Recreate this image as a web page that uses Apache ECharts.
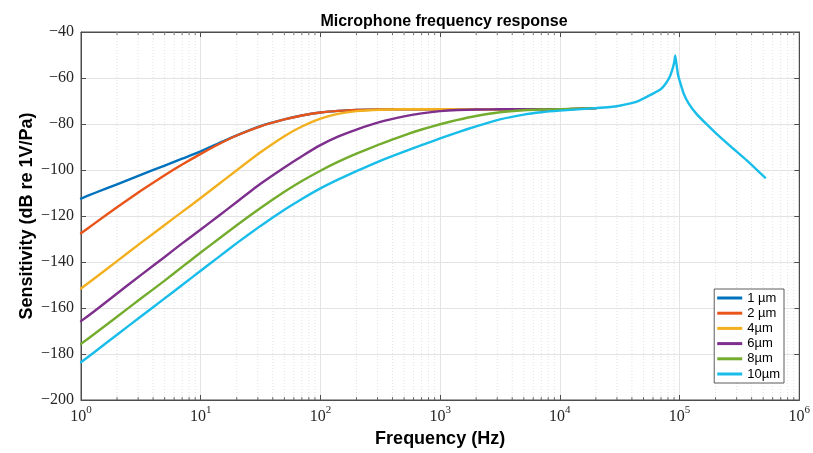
<!DOCTYPE html>
<html>
<head>
<meta charset="utf-8">
<script src="https://cdn.jsdelivr.net/npm/echarts@6/dist/echarts.min.js"></script>
<style>html,body{margin:0;padding:0;background:#fff}#c{width:813px;height:453px}</style>
</head>
<body>
<div id="c"></div>
<script>
// Frequencies (Hz) shared by all six curves
const freqCommon = [1, 1.3, 2, 3.16, 5, 7, 10, 14, 20, 31.6, 50, 70, 100, 140, 200, 316, 500, 700, 1000, 1400, 2000, 3160, 5000, 7000, 10000, 20000];
// Sensitivity (dB re 1V/Pa)
const sens1um  = [-112.4, -110.0, -106.2, -102.1, -98.1, -95.1, -91.9, -88.5, -84.9, -80.9, -78.0, -76.3, -75.0, -74.3, -73.9, -73.7, -73.6, -73.6, -73.6, -73.6, -73.6, -73.6, -73.6, -73.6, -73.6, -73.1];
const sens2um  = [-127.5, -123.2, -116.2, -109.0, -102.3, -97.6, -93.0, -88.9, -85.0, -81.0, -78.0, -76.3, -75.0, -74.3, -73.9, -73.7, -73.6, -73.6, -73.6, -73.6, -73.6, -73.6, -73.6, -73.6, -73.6, -73.1];
const sens4um  = [-151.5, -147.1, -139.6, -131.7, -123.9, -118.2, -112.2, -106.3, -100.1, -92.3, -85.3, -81.1, -77.7, -75.6, -74.4, -73.8, -73.6, -73.6, -73.6, -73.6, -73.6, -73.6, -73.6, -73.6, -73.6, -73.1];
const sens6um  = [-165.7, -161.3, -153.7, -145.7, -137.8, -131.9, -125.9, -120.1, -113.9, -106.0, -98.9, -94.0, -89.2, -85.5, -82.4, -79.1, -76.7, -75.4, -74.4, -73.9, -73.7, -73.6, -73.6, -73.6, -73.6, -73.1];
const sens8um  = [-175.6, -171.2, -163.8, -155.9, -148.1, -142.1, -135.9, -130.1, -124.0, -116.5, -109.5, -104.8, -100.3, -96.5, -92.9, -88.7, -84.9, -82.4, -80.1, -78.2, -76.5, -74.9, -74.0, -73.7, -73.6, -73.1];
const sens10um = [-183.6, -179.1, -171.6, -163.7, -155.8, -150.0, -143.8, -138.0, -131.8, -124.3, -117.3, -112.6, -108.0, -104.2, -100.5, -96.0, -92.0, -89.2, -86.3, -83.6, -81.0, -78.0, -75.9, -74.9, -74.2, -73.1];
// Resonance part of the 10 µm curve
const freqResonance = [30000, 44000, 60000, 70000, 77000, 83600, 88000, 90500, 92000, 94000, 97000, 101000, 108000, 119000, 139000, 169000, 205000, 264000, 364000, 518000];
const sens10umResonance = [-72.3, -70.3, -66.8, -64.8, -62.3, -59.0, -55.5, -52.8, -50.2, -53.5, -58.5, -61.8, -66.6, -71.0, -75.7, -80.2, -84.4, -89.5, -95.8, -103.3];

const seriesNames = ['1 µm', '2 µm', '4µm', '6µm', '8µm', '10µm'];
const seriesColors = ['#0072BD', '#E8541A', '#F2B01E', '#7E2F8E', '#74AC2E', '#19BDEA'];
const yTicks = {min: -200, max: -40, step: 20};
const xDecades = {min: 1, max: 1e6};
const minorMantissas = [2, 3, 4, 5, 6, 7, 8, 9];
const decadeStarts = [1, 10, 100, 1000, 10000, 100000];

const minorFreqs = [];
decadeStarts.forEach(d => minorMantissas.forEach(m => minorFreqs.push([d * m, yTicks.min])));

function pairs(xs, ys) { return xs.map((x, i) => [x, ys[i]]); }
const allSens = [sens1um, sens2um, sens4um, sens6um, sens8um, sens10um];
const lineData = allSens.map(s => pairs(freqCommon, s));
lineData[5] = lineData[5].concat(pairs(freqResonance, sens10umResonance));

const serif = 'Liberation Serif';
const sans = 'Liberation Sans';
const axisColor = '#4d4d4d';

const chart = echarts.init(document.getElementById('c'), null, {renderer: 'canvas'});

const series = [{
  type: 'custom',
  silent: true,
  z: 1,
  data: minorFreqs,
  encode: {x: 0, y: 1},
  renderItem: function (params, api) {
    const f = api.value(0);
    const top = api.coord([f, yTicks.max]);
    const bot = api.coord([f, yTicks.min]);
    return {
      type: 'group',
      children: [
        {type: 'line', shape: {x1: top[0], y1: top[1], x2: bot[0], y2: bot[1]},
         style: {stroke: '#d9d9d9', lineWidth: 0.8, lineDash: [1, 2]}},
        {type: 'line', shape: {x1: bot[0], y1: bot[1], x2: bot[0], y2: bot[1] - 3},
         style: {stroke: axisColor, lineWidth: 0.8}},
        {type: 'line', shape: {x1: top[0], y1: top[1], x2: top[0], y2: top[1] + 3},
         style: {stroke: axisColor, lineWidth: 0.8}}
      ]
    };
  }
}];
seriesNames.forEach((n, i) => {
  series.push({
    name: n,
    type: 'line',
    data: lineData[i],
    showSymbol: false,
    symbol: 'none',
    smooth: 0.15,
    lineStyle: {width: 2.4, color: seriesColors[i], join: 'round', cap: 'round'},
    itemStyle: {color: seriesColors[i]},
    z: 3 + i,
    animation: false
  });
});

const option = {
  animation: false,
  backgroundColor: '#fff',
  title: {
    text: 'Microphone frequency response',
    left: 439, top: 9, textAlign: 'center',
    textStyle: {fontFamily: sans, fontSize: 16, fontWeight: 'bold', color: '#000'}
  },
  grid: {left: 81, right: 12, top: 32, bottom: 50, containLabel: false,
         show: true, borderColor: axisColor, borderWidth: 1, backgroundColor: '#fff'},
  legend: {
    data: seriesNames,
    orient: 'vertical',
    right: 29, bottom: 70,
    backgroundColor: '#fff',
    borderColor: '#333', borderWidth: 0.8,
    padding: [2, 4, 2, 3],
    itemWidth: 25, itemHeight: 3, itemGap: 1.2,
    icon: 'rect',
    textStyle: {fontFamily: sans, fontSize: 13, color: '#000', lineHeight: 14}
  },
  xAxis: [{
    type: 'log', logBase: 10, min: xDecades.min, max: xDecades.max,
    position: 'bottom',
    name: 'Frequency (Hz)', nameLocation: 'middle', nameGap: 30,
    nameTextStyle: {fontFamily: sans, fontSize: 18, fontWeight: 'bold', color: '#000'},
    axisLine: {show: true, lineStyle: {color: axisColor, width: 1}},
    axisTick: {show: true, inside: true, length: 5, lineStyle: {color: axisColor}},
    splitLine: {show: true, lineStyle: {color: '#e3e3e3', width: 1}},
    axisLabel: {
      margin: 5,
      formatter: function (v) { const e = Math.round(Math.log10(v)); return '{b|10}{e|' + e + '}'; },
      rich: {
        b: {fontFamily: serif, fontSize: 16, color: '#262626', verticalAlign: 'bottom'},
        e: {fontFamily: serif, fontSize: 11, color: '#262626', verticalAlign: 'bottom', padding: [0, 0, 9, 0]}
      }
    }
  }, {
    type: 'log', logBase: 10, min: xDecades.min, max: xDecades.max,
    position: 'top',
    axisLine: {show: true, lineStyle: {color: axisColor, width: 1}},
    axisTick: {show: true, inside: true, length: 5, lineStyle: {color: axisColor}},
    axisLabel: {show: false}, splitLine: {show: false}
  }],
  yAxis: [{
    type: 'value', min: yTicks.min, max: yTicks.max, interval: yTicks.step,
    name: 'Sensitivity (dB re 1V/Pa)', nameLocation: 'middle', nameGap: 45,
    nameMoveOverlap: false,
    nameTextStyle: {fontFamily: sans, fontSize: 18, fontWeight: 'bold', color: '#000'},
    axisLine: {show: true, lineStyle: {color: axisColor, width: 1}},
    axisTick: {show: true, inside: true, length: 5, lineStyle: {color: axisColor}},
    splitLine: {show: true, lineStyle: {color: '#e3e3e3', width: 1}},
    axisLabel: {
      margin: 7, fontFamily: serif, fontSize: 16, color: '#262626',
      formatter: v => String(v).replace('-', '\u2212')
    }
  }, {
    type: 'value', min: yTicks.min, max: yTicks.max, interval: yTicks.step,
    position: 'right',
    axisLine: {show: true, lineStyle: {color: axisColor, width: 1}},
    axisTick: {show: true, inside: true, length: 5, lineStyle: {color: axisColor}},
    axisLabel: {show: false}, splitLine: {show: false}
  }],
  series: series
};
chart.setOption(option);
</script>
</body>
</html>
